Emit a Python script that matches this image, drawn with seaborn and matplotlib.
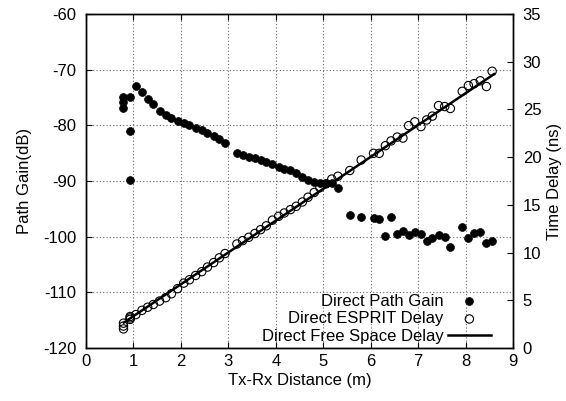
import matplotlib
matplotlib.use("Agg")
import matplotlib.pyplot as plt
import seaborn as sns
import pandas as pd

plt.rcParams['font.family'] = ['Liberation Sans', 'DejaVu Sans']
plt.rcParams['axes.unicode_minus'] = False

dist = [0.79, 0.79, 0.79, 0.93, 0.93, 0.93, 1.05, 1.18, 1.30, 1.42, 1.55, 1.68, 1.80, 1.93,
        2.06, 2.18, 2.31, 2.44, 2.56, 2.69, 2.81, 2.93, 3.18, 3.30, 3.43, 3.56, 3.68, 3.80,
        3.93, 4.06, 4.18, 4.31, 4.43, 4.56, 4.68, 4.81, 4.93, 5.06, 5.18, 5.31, 5.56, 5.80,
        6.06, 6.18, 6.31, 6.43, 6.56, 6.68, 6.80, 6.93, 7.06, 7.18, 7.30, 7.43, 7.56, 7.68,
        7.93, 8.06, 8.18, 8.31, 8.44, 8.56]
path_gain = [-74.9, -75.8, -76.9, -74.9, -81.1, -89.8, -72.9, -74.0, -75.2, -76.2, -77.4, -78.2,
             -78.7, -79.2, -79.6, -80.0, -80.5, -80.9, -81.3, -82.0, -82.5, -83.1, -85.0, -85.4,
             -85.6, -85.9, -86.3, -86.6, -87.0, -87.4, -87.8, -88.1, -88.6, -89.3, -89.8, -90.1,
             -90.3, -90.3, -90.4, -91.2, -96.1, -96.4, -96.6, -96.9, -99.9, -96.5, -99.6, -99.0,
             -99.7, -99.2, -99.5, -100.7, -100.3, -99.7, -100.1, -101.9, -98.2, -100.2, -99.4,
             -99.2, -101.2, -100.8]
esprit_delay = [2.0, 2.3, 2.6, 3.0, 3.15, 3.3, 3.5, 3.95, 4.27, 4.56, 4.92, 5.27, 5.68, 6.22,
                6.8, 7.15, 7.6, 8.0, 8.48, 8.95, 9.45, 9.9, 10.9, 11.25, 11.6, 12.0, 12.4, 12.8,
                13.4, 13.8, 14.15, 14.5, 14.85, 15.3, 15.8, 16.3, 16.8, 17.2, 17.7, 18.0, 18.6,
                19.7, 20.4, 20.4, 21.2, 21.7, 22.1, 22.0, 23.3, 23.7, 23.2, 23.9, 24.3, 25.4,
                25.3, 25.1, 26.9, 27.5, 27.7, 28.0, 27.4, 29.0]
line_dist = [0.8, 8.6]
line_delay = [2.67, 28.7]

labels = ["Direct Path Gain", "Direct ESPRIT Delay", "Direct Free Space Delay"]
x_ticks = list(range(0, 10))
y_ticks = list(range(-120, -59, 10))
y2_ticks = list(range(0, 36, 5))

df = pd.DataFrame({"dist": dist, "gain": path_gain, "delay": esprit_delay})
dfl = pd.DataFrame({"dist": line_dist, "delay": line_delay})

fig = plt.figure(figsize=(5.66, 4.01), dpi=100)
ax = fig.add_axes([86/566, 1-348/401, (513-86)/566, (348-14)/401])
ax2 = ax.twinx()

sns.scatterplot(data=df, x="dist", y="gain", ax=ax, color="black", s=32,
                edgecolor="black", linewidth=0.5, label=labels[0], legend=False, zorder=3)
sns.scatterplot(data=df, x="dist", y="delay", ax=ax2, facecolor="none", edgecolor="black",
                s=36, linewidth=0.8, label=labels[1], legend=False, zorder=3)
sns.lineplot(data=dfl, x="dist", y="delay", ax=ax2, color="black", linewidth=1.8,
             label=labels[2], legend=False, zorder=2)

ax.set_xlim(0, 9)
ax.set_ylim(-120, -60)
ax2.set_ylim(0, 35)
ax.set_xticks(x_ticks)
ax.set_yticks(y_ticks)
ax2.set_yticks(y2_ticks)

fs = 12
ax.set_xlabel("Tx-Rx Distance (m)", fontsize=fs, labelpad=3)
ax.set_ylabel("Path Gain(dB)", fontsize=fs, labelpad=8)
ax2.set_ylabel("Time Delay (ns)", fontsize=fs, labelpad=4)

ax.tick_params(axis='x', direction='in', top=True, length=4, width=0.8, labelsize=fs, pad=4)
ax.tick_params(axis='y', direction='in', length=4, width=0.8, labelsize=fs, pad=7)
ax2.tick_params(axis='y', direction='in', length=4, width=0.8, labelsize=fs, pad=7)
ax2.tick_params(axis='x', top=False)

ax.grid(True, color='#666666', linestyle=(0, (1, 2)), linewidth=0.8)
ax.set_axisbelow(True)
for sp in list(ax.spines.values()) + list(ax2.spines.values()):
    sp.set_linewidth(1.0)
    sp.set_color('black')

h1, l1 = ax.get_legend_handles_labels()
h2, l2 = ax2.get_legend_handles_labels()
leg = ax2.legend(h1 + h2, l1 + l2, loc='lower right', bbox_to_anchor=(0.972, -0.018),
                 frameon=False, markerfirst=False, fontsize=fs, handlelength=2.6,
                 handletextpad=0.25, labelspacing=0.16, borderaxespad=0.2)
for col in leg._legend_box._children[-1]._children:
    col.align = 'right'

fig.savefig("out.png", dpi=100)
